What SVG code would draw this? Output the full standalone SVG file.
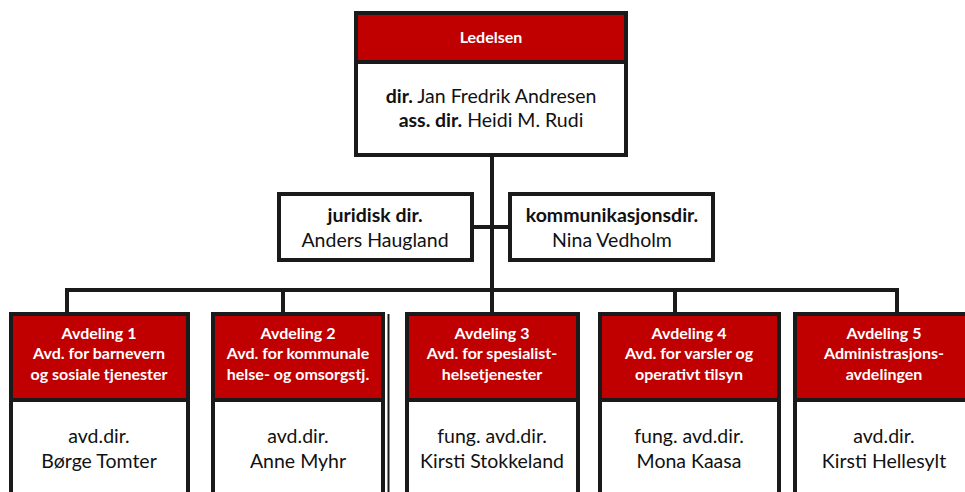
<svg xmlns="http://www.w3.org/2000/svg" width="965" height="492" viewBox="0 0 965 492">
<style>
.box{fill:#fff;stroke:#1a1a1a;stroke-width:4}
.hdr{fill:#c00000;stroke:#1a1a1a;stroke-width:4}
.conn{stroke:#1a1a1a;stroke-width:4;fill:none}
text{font-family:Lato,"Liberation Sans",sans-serif;text-anchor:middle}
.ht{fill:#fff;font-weight:bold;font-size:16px}
.bt{fill:#111;font-size:19.5px}
.b{font-weight:bold}
</style>
<rect width="965" height="492" fill="#fff"/>
<g id="connectors">
<line class="conn" x1="492" y1="155" x2="492" y2="292"/>
<line class="conn" x1="472" y1="227" x2="510" y2="227"/>
<polyline class="conn" points="67,313 67,290 897,290 897,313"/>
<line class="conn" x1="283" y1="290" x2="283" y2="313"/>
<line class="conn" x1="492" y1="290" x2="492" y2="313"/>
<line class="conn" x1="675" y1="290" x2="675" y2="313"/>
</g>
<g id="ledelsen">
<rect class="box" x="356" y="13" width="270" height="142"/>
<rect class="hdr" x="356" y="13" width="270" height="49"/>
<text class="ht" x="491" y="43">Ledelsen</text>
<text class="bt" x="491" y="103"><tspan class="b">dir.</tspan> Jan Fredrik Andresen</text>
<text class="bt" x="491" y="127"><tspan class="b">ass. dir.</tspan> Heidi M. Rudi</text>
</g>
<g id="juridisk">
<rect class="box" x="279" y="194" width="193" height="66"/>
<text class="bt" x="375" y="222"><tspan class="b">juridisk dir.</tspan></text>
<text class="bt" x="375" y="247">Anders Haugland</text>
</g>
<g id="kommunikasjon">
<rect class="box" x="510" y="194" width="203" height="66"/>
<text class="bt" x="612" y="222"><tspan class="b">kommunikasjonsdir.</tspan></text>
<text class="bt" x="612" y="247">Nina Vedholm</text>
</g>
<g id="avd1">
<rect class="box" x="11" y="314" width="177" height="190"/>
<rect class="hdr" x="11" y="314" width="177" height="86"/>
<text class="ht" x="99" y="339">Avdeling 1</text>
<text class="ht" x="99" y="359">Avd. for barnevern</text>
<text class="ht" x="99" y="380">og sosiale tjenester</text>
<text class="bt" x="99" y="443">avd.dir.</text>
<text class="bt" x="99" y="468">Børge Tomter</text>
</g>
<g id="avd2">
<rect class="box" x="213" y="314" width="170" height="190"/>
<rect class="hdr" x="213" y="314" width="170" height="86"/>
<line x1="388.5" y1="314" x2="388.5" y2="492" stroke="#1a1a1a" stroke-width="2"/>
<text class="ht" x="298" y="339">Avdeling 2</text>
<text class="ht" x="298" y="359">Avd. for kommunale</text>
<text class="ht" x="298" y="380">helse- og omsorgstj.</text>
<text class="bt" x="298" y="443">avd.dir.</text>
<text class="bt" x="298" y="468">Anne Myhr</text>
</g>
<g id="avd3">
<rect class="box" x="407" y="314" width="171" height="190"/>
<rect class="hdr" x="407" y="314" width="171" height="86" stroke="#333"/>
<text class="ht" x="492" y="339">Avdeling 3</text>
<text class="ht" x="492" y="359">Avd. for spesialist-</text>
<text class="ht" x="492" y="380">helsetjenester</text>
<text class="bt" x="492" y="443">fung. avd.dir.</text>
<text class="bt" x="492" y="468">Kirsti Stokkeland</text>
</g>
<g id="avd4">
<rect class="box" x="600" y="314" width="179" height="190"/>
<rect class="hdr" x="600" y="314" width="179" height="86"/>
<text class="ht" x="689" y="339">Avdeling 4</text>
<text class="ht" x="689" y="359">Avd. for varsler og</text>
<text class="ht" x="689" y="380">operativt tilsyn</text>
<text class="bt" x="689" y="443">fung. avd.dir.</text>
<text class="bt" x="689" y="468">Mona Kaasa</text>
</g>
<g id="avd5">
<rect class="box" x="795" y="314" width="180" height="190"/>
<rect class="hdr" x="795" y="314" width="180" height="86"/>
<text class="ht" x="884" y="339">Avdeling 5</text>
<text class="ht" x="884" y="359">Administrasjons-</text>
<text class="ht" x="884" y="380">avdelingen</text>
<text class="bt" x="884" y="443">avd.dir.</text>
<text class="bt" x="884" y="468">Kirsti Hellesylt</text>
</g>
</svg>
